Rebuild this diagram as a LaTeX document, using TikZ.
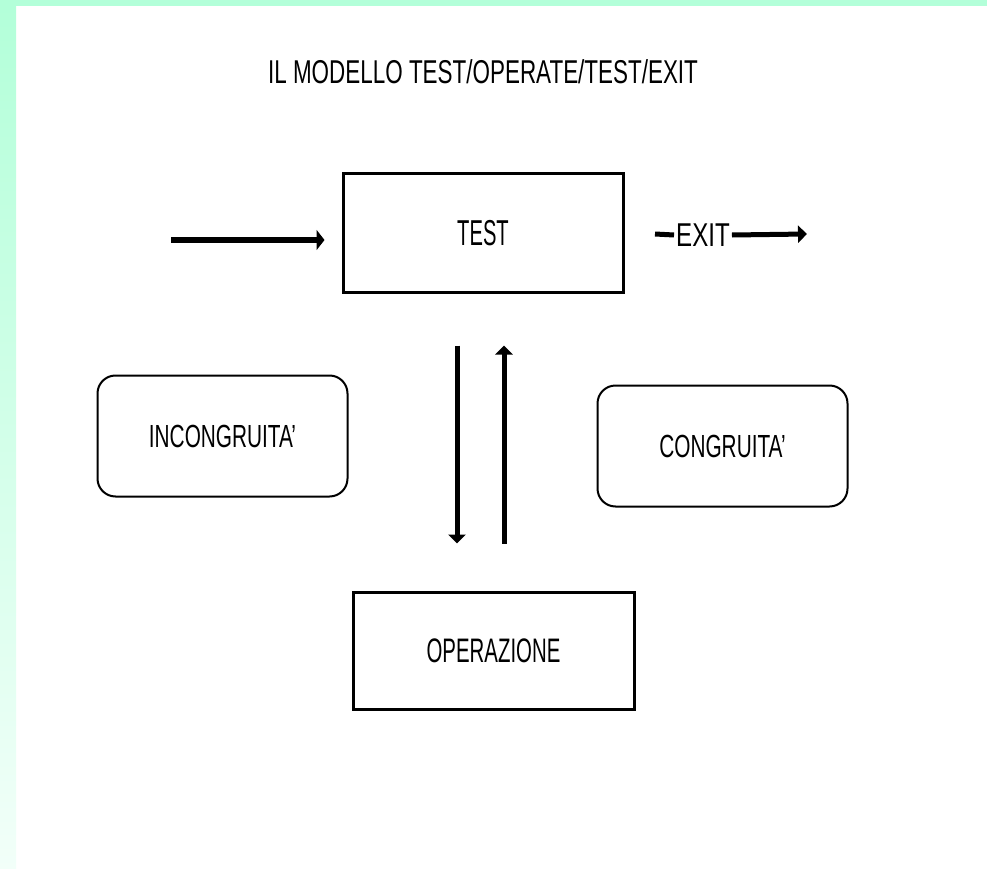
\documentclass[tikz,border=0pt]{standalone}
\usepackage{fontspec}
\setmainfont{Liberation Sans}
\usepackage{graphicx}
\usetikzlibrary{arrows.meta}
\definecolor{mint}{RGB}{179,255,217}
\definecolor{mintpale}{RGB}{242,255,249}
\newcommand\lbl[3]{\scalebox{#1}[1]{\fontsize{#2}{#2}\selectfont #3}}
\tikzset{
  sqbox/.style={draw, line width=3pt, minimum width=280pt, minimum height=118pt, inner sep=0pt},
  rbox/.style={draw, line width=2pt, rounded corners=18pt, minimum width=250pt, minimum height=121pt, inner sep=0pt},
  plain/.style={inner sep=0pt},
  bigarrow/.style={line width=6pt, -{Triangle[length=8pt,width=20pt]}},
  vertarrow/.style={line width=5pt, -{Triangle[length=9pt,width=17pt]}},
  exitline/.style={line width=5pt},
}
\begin{document}
\begin{tikzpicture}[x=1pt,y=-1pt]
\useasboundingbox (0,0) rectangle (987,869);
\fill[white] (0,0) rectangle (987,869);
\fill[mint] (0,0) rectangle (987,6);
\shade[top color=mint, bottom color=mintpale] (0,6) rectangle (16,869);

\node[plain] (title) at (483,72) {\lbl{0.68}{33}{IL MODELLO TEST/OPERATE/TEST/EXIT}};

\node[sqbox] (test) at (483,233) {\lbl{0.56}{36}{TEST}};
\node[sqbox, minimum width=281pt, minimum height=117pt] (oper) at (493.5,650.5) {\lbl{0.6}{34}{OPERAZIONE}};
\node[rbox] (incong) at (222.5,436) {\lbl{0.65}{32}{INCONGRUITA'}};
\node[rbox] (cong) at (722.5,446) {\lbl{0.65}{32}{CONGRUITA'}};

% input arrow
\coordinate (inp) at (171,240);
\draw[bigarrow, shorten >=17pt] (inp) -- (inp -| test.west);

% exit
\node[plain, inner xsep=2pt] (exit) at (703,235) {\lbl{0.73}{33}{EXIT}};
\coordinate (exitstart) at (655,234);
\coordinate (exitend) at (807,234);
\draw[exitline] (exitstart) -- (exit.west);
\draw[vertarrow] (exit.east) -- (exitend);

% vertical arrows
\coordinate (dx) at (457,0);
\coordinate (ux) at (504,0);
\draw[vertarrow, shorten <=52pt, shorten >=47pt] (test.south -| dx) -- (oper.north -| dx);
\draw[vertarrow, shorten <=47pt, shorten >=52pt] (oper.north -| ux) -- (test.south -| ux);
\end{tikzpicture}
\end{document}
